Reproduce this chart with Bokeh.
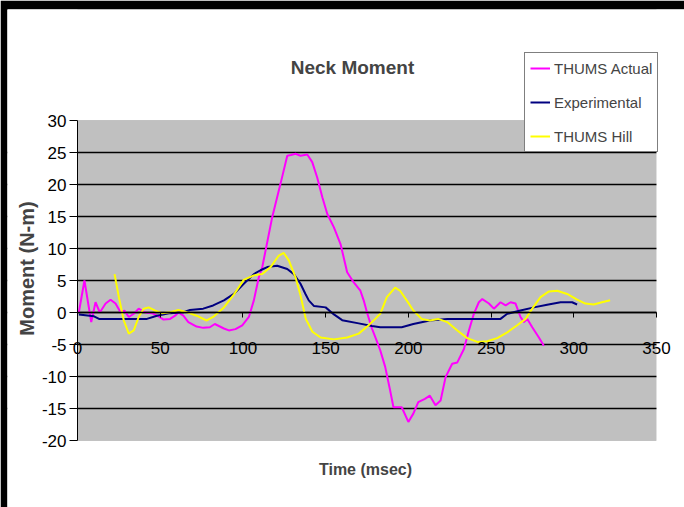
import math
from bokeh.plotting import figure
from bokeh.models import (Range1d, LinearAxis, FixedTicker, Legend, LegendItem, Label,
                          BoxAnnotation, PrintfTickFormatter)
from bokeh.embed import file_html
from bokeh.resources import INLINE

FONT = "Liberation Sans"

# THUMS Actual
actual_t = [0.8, 4.2, 8.3, 10.9, 13.5, 17, 20, 23, 26, 28.4, 31, 34, 37, 41, 45, 49, 52, 56, 59, 61,
            64, 67, 72, 76, 80, 83, 88.5, 91.5, 95.5, 99.6, 103.6, 106.6, 109.6, 111.7, 117.7, 122.7,
            126.8, 129, 131.8, 134.8, 138.9, 141.9, 144.9, 148, 151, 155, 159, 163, 167, 171, 173,
            175, 178, 181, 183, 186, 189, 191, 196, 200, 203, 206, 210, 213, 216.4, 219.5, 222.5,
            226.5, 229.6, 233.6, 236.6, 239.6, 242.6, 244.7, 248.7, 251.7, 255.7, 258.8, 261.8,
            264.8, 267.8, 269.9, 271.9, 274.9, 278.9, 281.9]
actual_v = [0.0, 5.0, -1.5, 1.6, 0.0, 1.4, 2.0, 1.4, 0.05, 0.3, -0.7, -0.2, 0.6, 0.0, -0.1, -0.6, -1.1,
            -1.0, -0.5, 0.0, -0.5, -1.5, -2.2, -2.4, -2.3, -1.8, -2.5, -2.8, -2.6, -2.0, -0.7, 1.9,
            5.5, 7.1, 14.9, 20.1, 24.5, 24.6, 24.8, 24.5, 24.7, 23.5, 21.1, 18.0, 15.4, 13.3, 10.7,
            6.3, 4.7, 3.4, 1.9, 0.0, -2.5, -4.5, -5.9, -8.5, -12.2, -14.8, -14.8, -17.1, -15.8,
            -14.0, -13.5, -13.0, -14.5, -13.75, -10.1, -8.0, -7.8, -5.7, -2.8, -0.2, 1.6, 2.1, 1.4,
            0.6, 1.6, 1.1, 1.6, 1.4, -0.7, -1.5, -1.0, -2.3, -3.9, -5.2]

# Experimental
exp_t = [0.8, 10, 13, 30, 42, 48, 56, 64, 68, 76, 82, 88.5, 94.5, 100.5, 106.6, 110.6, 114.7, 120.7,
         126.8, 130.8, 134.8, 137.8, 139.8, 143, 150, 155, 160, 170, 178, 183, 196, 203, 213, 223.5,
         255.7, 259.8, 267.8, 275.9, 283.9, 292, 299, 302]
exp_v = [-0.3, -0.6, -1.0, -1.0, -1.0, -0.5, -0.1, 0.05, 0.4, 0.6, 1.1, 1.9, 2.9, 4.5, 6.0, 6.6, 7.1,
         7.3, 6.8, 6.0, 4.5, 2.9, 1.9, 1.0, 0.8, -0.3, -1.2, -1.7, -2.1, -2.3, -2.3, -1.8, -1.25,
         -1.0, -1.0, -0.2, 0.3, 0.8, 1.2, 1.6, 1.6, 1.25]

# THUMS Hill
hill_t = [22.4, 25, 28, 31, 34, 37, 40, 43, 47, 51, 56, 61, 66, 72, 78, 82, 88.5, 94.5, 100.5, 106.6,
          111.7, 116.7, 121.7, 124.7, 127.8, 131.8, 134.8, 138, 142, 147, 155, 163, 170, 176, 180,
          183, 187, 192, 195, 199, 203, 208, 213, 218, 223.5, 229.6, 235.6, 241.7, 247.7, 253.7,
          259.8, 265.8, 270.9, 274.9, 279.9, 285, 290, 296, 302, 307, 312, 317, 322]
hill_v = [6.0, 2.4, -1.25, -3.3, -2.8, -0.7, 0.6, 0.8, 0.3, -0.1, 0.05, 0.4, 0.05, -0.5, -1.25, -0.7,
          0.8, 2.8, 5.1, 5.8, 6.0, 7.1, 8.9, 9.3, 8.1, 5.5, 2.7, -1.0, -3.0, -3.9, -4.2, -3.9, -3.3,
          -2.0, -1.0, -0.2, 2.4, 3.9, 3.4, 1.9, 0.3, -1.0, -1.25, -1.0, -1.5, -2.8, -4.0, -4.6,
          -4.5, -4.0, -3.1, -2.0, -1.0, 0.6, 2.4, 3.3, 3.4, 2.9, 2.0, 1.4, 1.25, 1.6, 1.9]

x_ticks = [0, 50, 100, 150, 200, 250, 300, 350]
y_ticks = [-20, -15, -10, -5, 0, 5, 10, 15, 20, 25, 30]
series_names = ["THUMS Actual", "Experimental", "THUMS Hill"]
series_colors = ["#ff00ff", "#000080", "#ffff00"]

# ---- layout (page pixels) ----
W, H = 684, 507
BL, BT = 7, 9                 # black frame bands (left, top)
PX0, PX1 = 77, 656            # plot area left/right (page px)
PY0, PY1 = 120, 440           # plot area top/bottom (page px)
xs = (PX1 - PX0) / (x_ticks[-1] - x_ticks[0])
ys = (PY1 - PY0) / (y_ticks[-1] - y_ticks[0])
x_start = x_ticks[0] - (PX0 - BL) / xs
x_end = x_ticks[-1] + (W - PX1) / xs
y_end = y_ticks[-1] + (PY0 - BT) / ys
y_start = y_ticks[0] - (H - PY1) / ys

p = figure(width=W, height=H, output_backend="svg", toolbar_location=None,
           x_range=Range1d(x_start, x_end), y_range=Range1d(y_start, y_end),
           x_axis_location=None, y_axis_location=None,
           min_border_left=BL, min_border_top=BT, min_border_right=0, min_border_bottom=0)
p.border_fill_color = "black"
p.background_fill_color = "white"
p.outline_line_color = None

# gray plot area
p.add_layout(BoxAnnotation(left=x_ticks[0], right=x_ticks[-1], bottom=y_ticks[0], top=y_ticks[-1],
                           fill_color="#c0c0c0", fill_alpha=1, line_color="#808080", line_width=1,
                           level="image"))

p.xgrid.visible = False
p.ygrid.ticker = FixedTicker(ticks=y_ticks[1:-1])
p.ygrid.grid_line_color = "black"
p.ygrid.grid_line_width = 1.3

# white covers so that grid lines stop at the plot area
p.add_layout(BoxAnnotation(right=x_ticks[0], fill_color="white", fill_alpha=1, line_color=None,
                           level="underlay"))
p.add_layout(BoxAnnotation(left=x_ticks[-1], fill_color="white", fill_alpha=1, line_color=None,
                           level="underlay"))

# y axis at x = 0
yax = LinearAxis(ticker=FixedTicker(ticks=y_ticks), fixed_location=x_ticks[0],
                 bounds=(y_ticks[0], y_ticks[-1]), formatter=PrintfTickFormatter(format="%d"))
yax.major_label_text_font = FONT
yax.major_label_text_font_size = "17px"
yax.major_label_text_color = "black"
yax.major_tick_out = 8
yax.major_tick_in = 0
yax.minor_tick_out = 0
yax.minor_tick_in = 0
yax.major_label_standoff = 3
yax.axis_line_color = "black"
p.add_layout(yax, "left")

# x axis at y = 0
xax = LinearAxis(ticker=FixedTicker(ticks=x_ticks), fixed_location=0,
                 bounds=(x_ticks[0], x_ticks[-1]), formatter=PrintfTickFormatter(format="%d"))
xax.major_label_text_font = FONT
xax.major_label_text_font_size = "17px"
xax.major_label_text_color = "black"
xax.major_tick_out = 5
xax.major_tick_in = 0
xax.minor_tick_out = 0
xax.minor_tick_in = 0
xax.major_label_standoff = 24
xax.axis_line_color = "black"
xax.axis_line_width = 1.5
p.add_layout(xax, "below")

renderers = []
for t, v, c in [(actual_t, actual_v, series_colors[0]), (exp_t, exp_v, series_colors[1]),
                (hill_t, hill_v, series_colors[2])]:
    renderers.append(p.line(t, v, line_color=c, line_width=2))

# texts (screen units: from the frame's bottom-left corner)
def sx(px):
    return px - BL

def sy(py):
    return H - py

p.add_layout(Label(x=sx(352), y=sy(67), x_units="screen", y_units="screen", text="Neck Moment",
                   text_font=FONT, text_font_size="19px", text_font_style="bold",
                   text_align="center", text_baseline="middle"))
p.add_layout(Label(x=sx(365), y=sy(469), x_units="screen", y_units="screen", text="Time (msec)",
                   text_font=FONT, text_font_size="16px", text_font_style="bold",
                   text_align="center", text_baseline="middle"))
p.add_layout(Label(x=sx(26), y=sy(268), x_units="screen", y_units="screen", text="Moment (N-m)",
                   angle=math.pi / 2, text_font=FONT, text_font_size="20px", text_font_style="bold",
                   text_align="center", text_baseline="middle"))

legend = Legend(items=[LegendItem(label=n, renderers=[r]) for n, r in zip(series_names, renderers)],
                location=(sx(657) - 133, sy(152)))
legend.margin = 0
legend.padding = 5
legend.spacing = 14
legend.glyph_width = 20
legend.glyph_height = 20
legend.label_height = 20
legend.label_standoff = 4
legend.label_text_font = FONT
legend.label_text_font_size = "15px"
legend.border_line_color = "black"
legend.border_line_width = 1
legend.background_fill_color = "white"
legend.background_fill_alpha = 1
p.add_layout(legend, "center")

open("out.html", "w").write(file_html(p, INLINE))
